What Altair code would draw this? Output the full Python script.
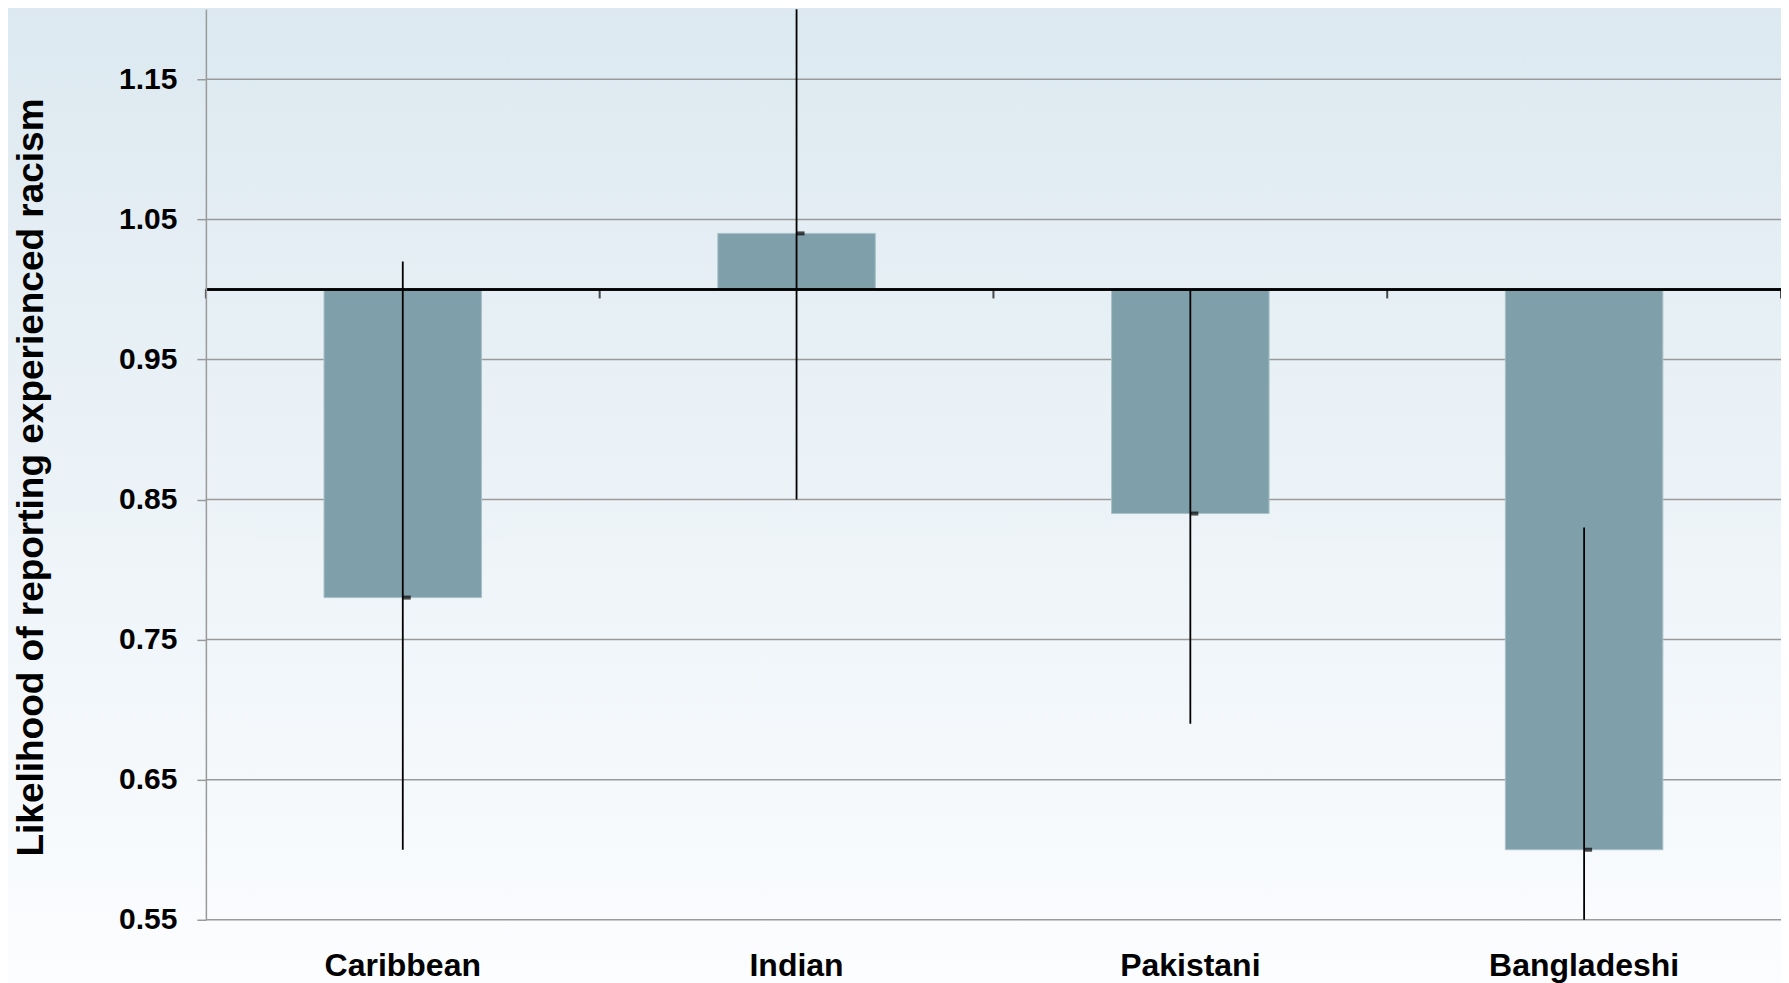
import altair as alt
import pandas as pd

categories = ["Caribbean", "Indian", "Pakistani", "Bangladeshi"]
values = [0.78, 1.04, 0.84, 0.60]
ci_low = [0.60, 0.85, 0.69, 0.55]
ci_high = [1.02, 1.20, 1.00, 0.83]
baseline = [1.0, 1.0, 1.0, 1.0]
y_ticks = [0.55, 0.65, 0.75, 0.85, 0.95, 1.05, 1.15]

df = pd.DataFrame({"group": categories, "value": values, "lo": ci_low,
                   "hi": ci_high, "base": baseline})
grid_df = pd.DataFrame({"tick": y_ticks})

W, H = 1576, 911
FONT = "Liberation Sans"
GREY = "#9a9a9a"

x_scale = alt.Scale(domain=categories, paddingInner=0, paddingOuter=0)
y_scale = alt.Scale(domain=[0.55, 1.2], nice=False, zero=False)

x_enc = alt.X(
    "group:N", sort=categories, title=None, scale=x_scale,
    axis=alt.Axis(
        orient="bottom", domain=False, ticks=False, grid=False,
        labelFont=FONT, labelFontSize=32, labelFontWeight="bold", labelColor="black",
        labelPadding=56, labelBaseline="alphabetic", labelAngle=0, labelLimit=500,
        zindex=1,
    ),
)
y_axis = alt.Axis(
    values=y_ticks, format=".2f", title="Likelihood of reporting experienced racism",
    labelFont=FONT, labelFontSize=30, labelFontWeight="bold", labelColor="black",
    labelPadding=20, tickSize=9, tickColor=GREY, tickWidth=1.5,
    domainColor=GREY, domainWidth=1.5, grid=False,
    titleFont=FONT, titleFontSize=37, titleFontWeight="bold",
    titleColor="black", titleAngle=-90, titleX=-163, titleY=468,
    titleAlign="center", titleBaseline="alphabetic", zindex=1,
)

bg = alt.Chart(df).mark_rect(
    fill=alt.LinearGradient(
        gradient="linear", x1=0, y1=0, x2=0, y2=1,
        stops=[alt.GradientStop(color="#dce9f0", offset=0),
               alt.GradientStop(color="#fcfdff", offset=1)],
    ),
    clip=False,
).encode(
    x=alt.value(-210), x2=alt.value(W + 20), y=alt.value(-12), y2=alt.value(H + 80)
)

grid = alt.Chart(grid_df).mark_rule(color=GREY, strokeWidth=1.5).encode(
    y=alt.Y("tick:Q", scale=y_scale, axis=y_axis)
)

bars = alt.Chart(df).mark_bar(
    color="#7fa0aa", stroke="#a9c1c8", strokeWidth=1, width=alt.RelativeBandSize(0.4)
).encode(
    x=x_enc,
    y=alt.Y("value:Q", scale=y_scale),
    y2="base:Q",
)

base_rule = alt.Chart(df).mark_rule(color="black", strokeWidth=2).encode(
    y=alt.datum(1.0)
)

band_ticks = alt.Chart(df).mark_tick(
    color="black", orient="vertical", size=9, thickness=2, yOffset=4.5
).encode(
    x=alt.X("group:N", sort=categories, bandPosition=0),
    y=alt.datum(1.0),
)

end_tick = alt.Chart(df).transform_filter(
    alt.datum.group == categories[-1]
).mark_tick(
    color="black", orient="vertical", size=9, thickness=2, yOffset=4.5
).encode(
    x=alt.X("group:N", sort=categories, bandPosition=1),
    y=alt.datum(1.0),
)

err = alt.Chart(df).mark_rule(color="black", strokeWidth=1.8).encode(
    x=alt.X("group:N", sort=categories),
    y="lo:Q",
    y2="hi:Q",
)

marker = alt.Chart(df).mark_tick(color="black", size=8, thickness=4, xOffset=4,
                                 orient="horizontal").encode(
    x=alt.X("group:N", sort=categories),
    y="value:Q",
)

chart = alt.layer(bg, grid, bars, base_rule, band_ticks, end_tick, err, marker).properties(
    width=W, height=H,
    autosize=alt.AutoSizeParams(type="none"),
    padding={"left": 198, "top": 1, "right": 0, "bottom": 63},
    background="white",
).configure_view(stroke=None)

chart.save("out.html", embed_options={"renderer": "svg", "actions": False})
